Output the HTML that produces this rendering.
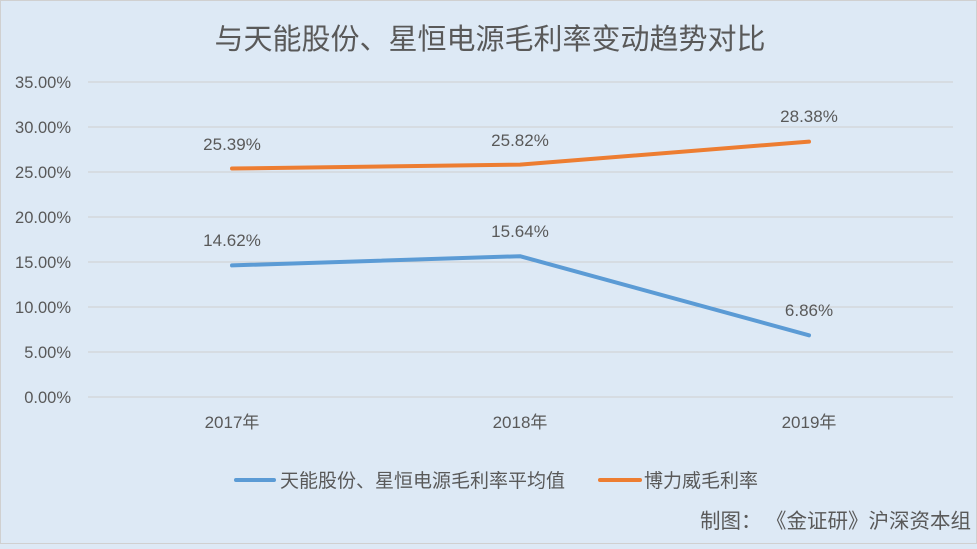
<!DOCTYPE html>
<html><head><meta charset="utf-8"><style>
html,body{margin:0;padding:0;}
body{width:977px;height:544px;background:#dde9f5;overflow:hidden;}
svg text{font-family:"Liberation Sans","Noto Sans CJK SC",sans-serif;fill:#595959;}
</style></head><body>
<svg width="977" height="544" viewBox="0 0 977 544">
<rect x="0.5" y="0.5" width="976" height="543" fill="#dde9f5" stroke="#d0d0d0"/>
<text x="490" y="49" font-size="29" text-anchor="middle">与天能股份、星恒电源毛利率变动趋势对比</text>
<g stroke="#d0d0d0" stroke-width="1">
<line x1="88" x2="953" y1="82" y2="82"/><line x1="88" x2="953" y1="127" y2="127"/>
<line x1="88" x2="953" y1="172" y2="172"/><line x1="88" x2="953" y1="217" y2="217"/>
<line x1="88" x2="953" y1="262" y2="262"/><line x1="88" x2="953" y1="307" y2="307"/>
<line x1="88" x2="953" y1="352" y2="352"/><line x1="88" x2="953" y1="397" y2="397"/>
</g>
<g font-size="16.5" text-anchor="end">
<text x="71" y="88">35.00%</text><text x="71" y="133">30.00%</text>
<text x="71" y="178">25.00%</text><text x="71" y="223">20.00%</text>
<text x="71" y="268">15.00%</text><text x="71" y="313">10.00%</text>
<text x="71" y="358">5.00%</text><text x="71" y="403">0.00%</text>
</g>
<g font-size="17" text-anchor="middle">
<text x="232" y="428">2017年</text><text x="520" y="428">2018年</text><text x="809" y="428">2019年</text>
</g>
<polyline points="232,168.5 520,164.6 809,141.6" fill="none" stroke="#ed7d31" stroke-width="4" stroke-linecap="round" stroke-linejoin="round"/>
<polyline points="232,265.4 520,256.2 809,335.3" fill="none" stroke="#5b9bd5" stroke-width="4" stroke-linecap="round" stroke-linejoin="round"/>
<g font-size="17" text-anchor="middle" style="fill:#404040">
<text x="232" y="150">25.39%</text><text x="520" y="146">25.82%</text><text x="809" y="122">28.38%</text>
<text x="232" y="246">14.62%</text><text x="520" y="237">15.64%</text><text x="809" y="316">6.86%</text>
</g>
<line x1="236" x2="274" y1="480" y2="480" stroke="#5b9bd5" stroke-width="4" stroke-linecap="round"/>
<text x="280" y="487" font-size="19">天能股份、星恒电源毛利率平均值</text>
<line x1="600" x2="640" y1="480" y2="480" stroke="#ed7d31" stroke-width="4" stroke-linecap="round"/>
<text x="644" y="487" font-size="19">博力威毛利率</text>
<text x="700" y="528" font-size="20.5">制图：</text>
<text x="971" y="528" font-size="20.5" text-anchor="end">《金证研》沪深资本组</text>
</svg>
</body></html>
